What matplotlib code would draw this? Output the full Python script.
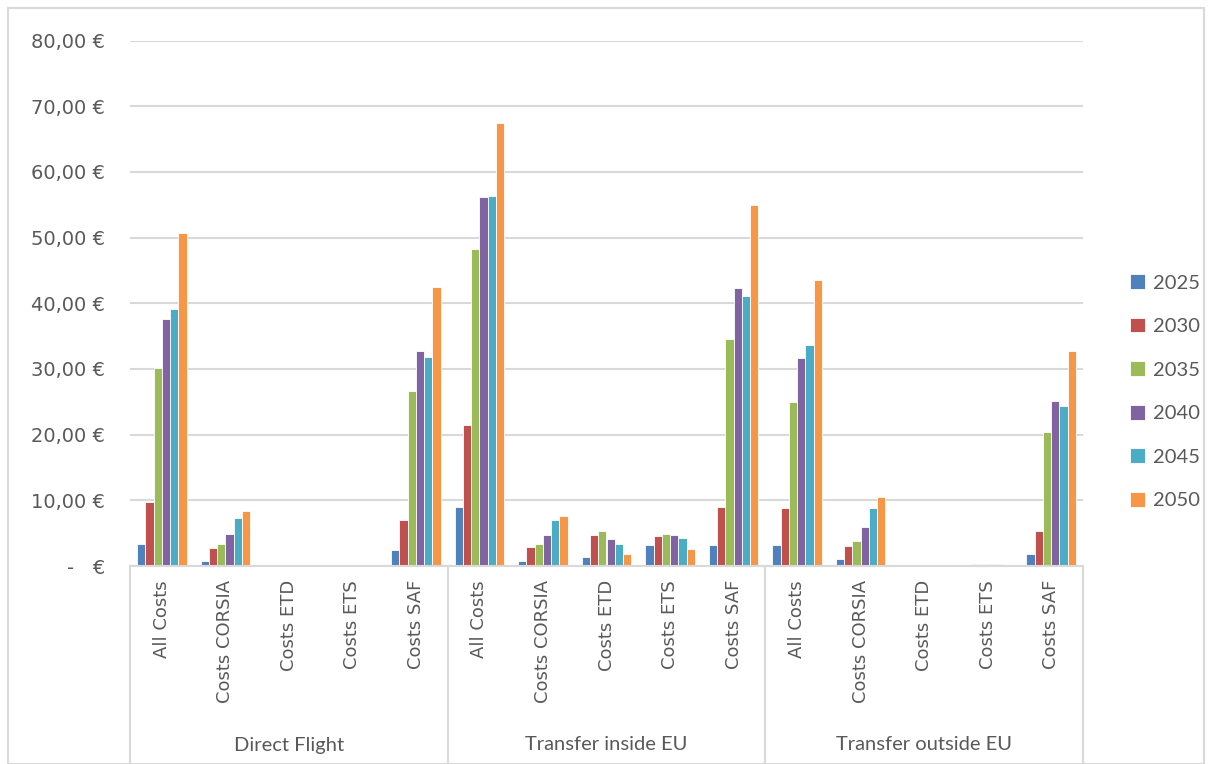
import numpy as np
import matplotlib.pyplot as plt
from matplotlib.patches import Rectangle
from matplotlib.lines import Line2D

groups = ["Direct Flight", "Transfer inside EU", "Transfer outside EU"]
cost_types = ["All Costs", "Costs CORSIA", "Costs ETD", "Costs ETS", "Costs SAF"]
years = ["2025", "2030", "2035", "2040", "2045", "2050"]
colors = ["#4F81BD", "#C0504D", "#9BBB59", "#8064A2", "#4BACC6", "#F79646"]

# values per year, 15 categories (3 groups x 5 cost types)
v2025 = [3.4, 0.8, 0.0, 0.0, 2.5,   9.0, 0.7, 1.4, 3.2, 3.2,   3.2, 1.0, 0.0, 0.15, 1.8]
v2030 = [9.8, 2.8, 0.0, 0.0, 6.95,  21.4, 2.9, 4.7, 4.6, 9.0,  8.8, 3.0, 0.0, 0.25, 5.3]
v2035 = [30.1, 3.35, 0.0, 0.0, 26.6, 48.2, 3.3, 5.3, 4.8, 34.6, 24.9, 3.8, 0.0, 0.25, 20.4]
v2040 = [37.6, 4.9, 0.0, 0.0, 32.7, 56.1, 4.7, 4.1, 4.7, 42.3, 31.6, 6.0, 0.0, 0.25, 25.1]
v2045 = [39.1, 7.3, 0.0, 0.0, 31.8, 56.3, 7.0, 3.4, 4.3, 41.1, 33.7, 8.8, 0.0, 0.25, 24.4]
v2050 = [50.7, 8.3, 0.0, 0.0, 42.5, 67.4, 7.6, 1.9, 2.6, 55.0, 43.5, 10.5, 0.0, 0.1, 32.7]
series = [v2025, v2030, v2035, v2040, v2045, v2050]

W, H = 1212, 764
fig = plt.figure(figsize=(W / 100, H / 100), dpi=100)
ax = fig.add_axes([130 / W, 1 - 566 / H, (1083 - 130) / W, (566 - 40.5) / H])

txt = "#595959"
grid = "#D9D9D9"
n = len(cost_types) * len(groups)
x = np.arange(n)
bw = 0.13
for i, (vals, c) in enumerate(zip(series, colors)):
    ax.bar(x + (i - 2.5) * bw, vals, width=bw, color=c, edgecolor="white",
           linewidth=0.6, label=years[i], zorder=3)

ax.set_xlim(-0.5, n - 0.5)
ax.set_ylim(0, 80)
ax.set_yticks(np.arange(0, 81, 10))
ax.set_yticklabels(["-   €"] + ["%d,00 €" % v for v in range(10, 81, 10)],
                   fontsize=14, color=txt, family="DejaVu Sans")
ax.tick_params(axis="y", length=0, pad=18)
ax.grid(axis="y", color=grid, linewidth=1.5, zorder=0)
for s in ["top", "right", "left"]:
    ax.spines[s].set_visible(False)
ax.spines["bottom"].set_color(grid)
ax.spines["bottom"].set_linewidth(1.5)
ax.spines["bottom"].set_zorder(4)

ax.set_xticks(x)
ax.set_xticklabels(cost_types * len(groups), rotation=90, fontsize=13,
                   color=txt, family="DejaVu Sans", va="top")
ax.tick_params(axis="x", length=0, pad=10)

# group separators and labels
ybot = (566 - 764) / (566 - 40.5)
for b in range(len(groups) + 1):
    xb = b * len(cost_types) - 0.5
    ax.add_line(Line2D([xb, xb], [0, ybot], transform=ax.get_xaxis_transform(),
                       color=grid, linewidth=1.5, clip_on=False))
for g, name in enumerate(groups):
    ax.text(g * len(cost_types) + 2, (566 - 745) / (566 - 40.5), name,
            transform=ax.get_xaxis_transform(), ha="center", va="center",
            fontsize=14.5, color=txt, family="Lato")

leg = fig.legend(loc="upper left", bbox_to_anchor=(1112 / W, 1 - 256 / H),
                 frameon=False, labelspacing=1.3,
                 handlelength=0.75, handleheight=0.75, handletextpad=0.4,
                 prop={"family": "Lato", "size": 14.5})
for t in leg.get_texts():
    t.set_color(txt)

fig.patches.append(Rectangle((8 / W, 0), (W - 16) / W, 1 - 8 / H,
                             transform=fig.transFigure, fill=False,
                             edgecolor=grid, linewidth=1.5))

fig.savefig("out.png", dpi=100)
